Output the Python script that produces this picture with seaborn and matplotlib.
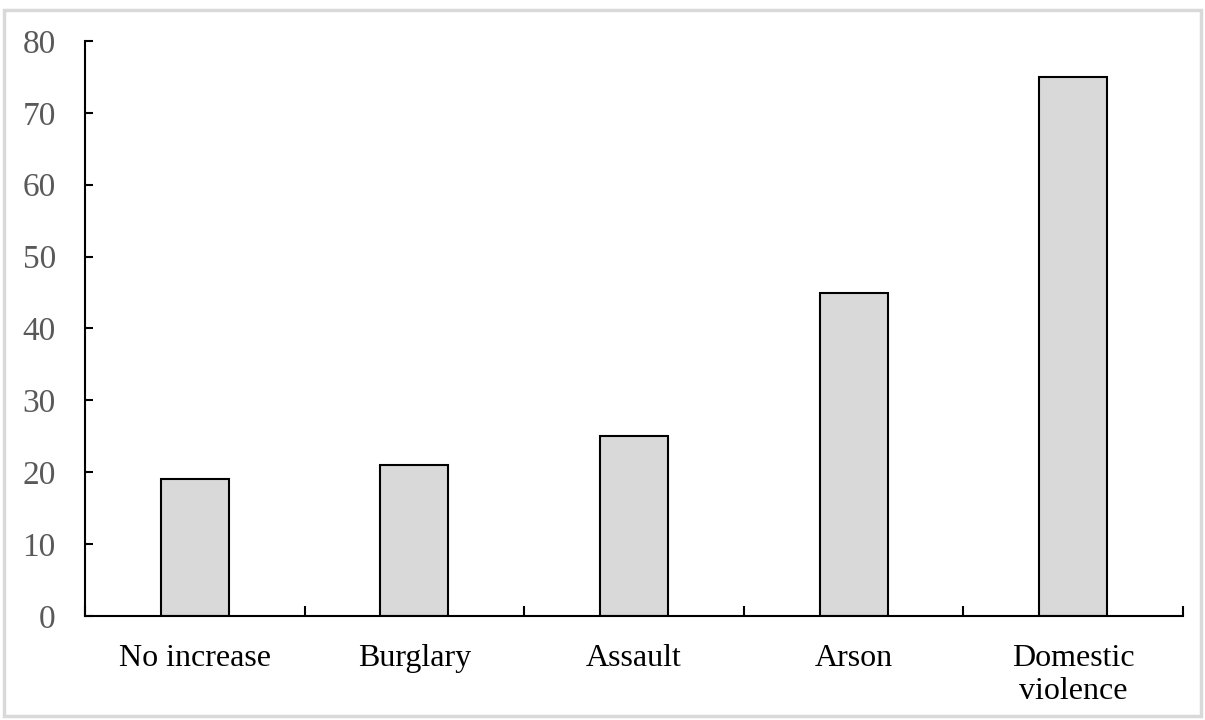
import matplotlib
matplotlib.use("Agg")
import matplotlib.pyplot as plt
import seaborn as sns
import pandas as pd
from matplotlib.patches import Rectangle

# Chart data
categories = ["No increase", "Burglary", "Assault", "Arson", "Domestic\nviolence"]
values = [19, 21, 25, 45, 75]
y_ticks = [0, 10, 20, 30, 40, 50, 60, 70, 80]

sns.set_theme(style="white")
plt.rcParams['font.family'] = ['Liberation Serif', 'DejaVu Serif']

df = pd.DataFrame({"category": categories, "value": values})

fig = plt.figure(figsize=(12.05, 7.2), dpi=100)
ax = fig.add_axes([85 / 1205, 1 - 616 / 720, (1183 - 85) / 1205, (616 - 41) / 720])

sns.barplot(data=df, x="category", y="value", color="#d9d9d9", edgecolor="black",
            linewidth=1.5, width=0.31, saturation=1, ax=ax)

ax.set_ylim(0, 80)
ax.set_xlim(-0.5, len(categories) - 0.5)
ax.set_yticks(y_ticks)
ax.set_xlabel("")
ax.set_ylabel("")

for side in ["top", "right"]:
    ax.spines[side].set_visible(False)
for side in ["left", "bottom"]:
    ax.spines[side].set_color("black")
    ax.spines[side].set_linewidth(1.5)

ax.tick_params(axis="y", direction="in", length=6, width=1.5, color="black",
               labelsize=24, labelcolor="#595959", pad=21, left=True)
ax.tick_params(axis="x", which="major", length=0, labelsize=23,
               labelcolor="black", pad=20)
for lbl in ax.get_xticklabels():
    lbl.set_linespacing(1.2)
ax.set_xticks([i - 0.5 for i in range(len(categories) + 1)], minor=True)
ax.tick_params(axis="x", which="minor", direction="in", length=7, width=1.5,
               color="black", bottom=True)

# light gray frame round the figure
fig.patches.append(Rectangle((4 / 1205, 4 / 720), 1 - 8 / 1205, 1 - 14 / 720,
                             transform=fig.transFigure, fill=False,
                             edgecolor="#d9d9d9", linewidth=2.5))

fig.savefig("out.png", dpi=100)
plt.close(fig)
